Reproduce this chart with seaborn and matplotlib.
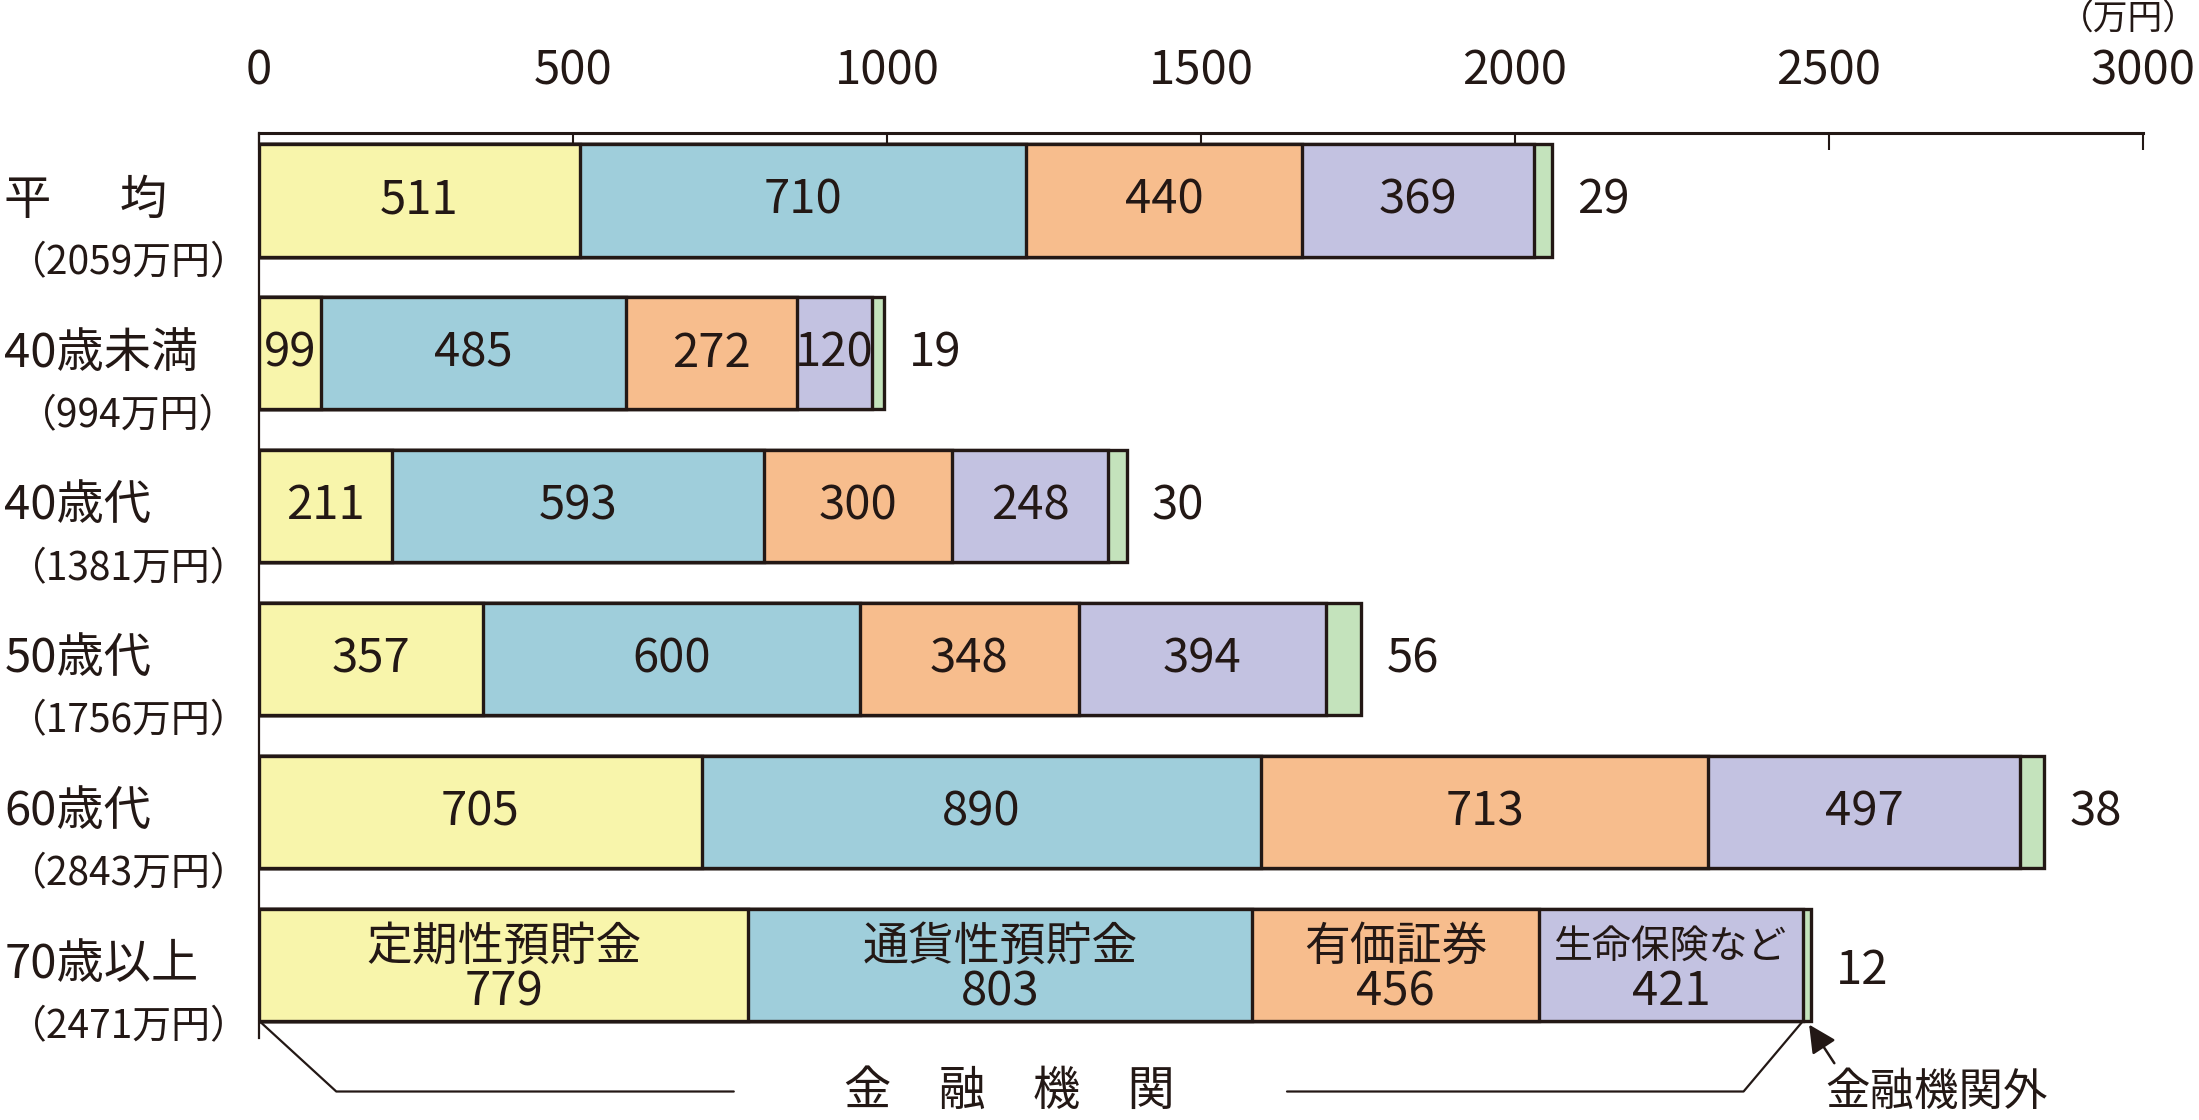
import numpy as np
import pandas as pd
import matplotlib
matplotlib.use("Agg")
import matplotlib.pyplot as plt
import matplotlib.transforms as mtransforms
from matplotlib import font_manager
import seaborn as sns

# data (万円)
groups = ["平均", "40歳未満", "40歳代", "50歳代", "60歳代", "70歳以上"]
group_labels = ["平　  均", "40歳未満", "40歳代", "50歳代", "60歳代", "70歳以上"]
group_totals = ["（2059万円）", "（994万円）", "（1381万円）", "（1756万円）", "（2843万円）", "（2471万円）"]
series = ["定期性預貯金", "通貨性預貯金", "有価証券", "生命保険など", "金融機関外"]
teiki = [511, 99, 211, 357, 705, 779]
tsuka = [710, 485, 593, 600, 890, 803]
yuka = [440, 272, 300, 348, 713, 456]
hoken = [369, 120, 248, 394, 497, 421]
gai = [29, 19, 30, 56, 38, 12]
xticks = [0, 500, 1000, 1500, 2000, 2500, 3000]

colors = ["#F8F5AB", "#9FCEDB", "#F7BD8D", "#C3C2E1", "#C4E3BC"]
ink = "#231815"

# fonts: narrow digits if available, CJK fallback
installed = {f.name for f in font_manager.fontManager.ttflist}
fams = [f for f in ["Liberation Sans Narrow", "Noto Sans CJK JP", "DejaVu Sans"] if f in installed]

sns.set_theme(style="white")
plt.rcParams['font.family'] = fams
plt.rcParams['text.color'] = ink

vals = np.array([teiki, tsuka, yuka, hoken, gai], dtype=float)
cum = vals.cumsum(axis=0)
df = pd.DataFrame({"group": groups})
for j, s in enumerate(series):
    df[s] = cum[j]

fig = plt.figure(figsize=(21.99, 11.2), dpi=100)
ax = fig.add_axes([0.1178, 0.0732, 0.9745 - 0.1178, 0.881 - 0.0732])

# stacked bars: draw cumulative layers back to front
for j in reversed(range(len(series))):
    sns.barplot(data=df, x=series[j], y="group", orient="h", color=colors[j],
                saturation=1, width=0.734, edgecolor=ink, linewidth=2.4,
                errorbar=None, ax=ax)

ax.set_xlim(0, 3000)
ax.set_ylim(5.48, -0.44)
ax.set_xlabel("")
ax.set_ylabel("")
ax.set_yticks([])
ax.set_xticks(xticks)
ax.set_xticklabels([str(t) for t in xticks])
ax.xaxis.set_ticks_position("top")
ax.tick_params(axis="x", top=True, bottom=False, labeltop=True, labelbottom=False,
               direction="in", length=12, width=1.5, color=ink, pad=27,
               labelsize=34, labelcolor=ink)
for side in ["right", "bottom"]:
    ax.spines[side].set_visible(False)
ax.spines["top"].set_linewidth(2.2)
ax.spines["top"].set_color(ink)
ax.spines["left"].set_linewidth(1.6)
ax.spines["left"].set_color(ink)

# segment labels
n = len(groups)
for i in range(n):
    for j in range(4):
        xc = cum[j, i] - vals[j, i] / 2
        if i == n - 1:
            fs = 28 if j == 3 else 33
            ax.text(xc, i - 0.12, series[j], ha="center", va="center", fontsize=fs)
            ax.text(xc, i + 0.18, f"{int(vals[j, i])}", ha="center", va="center", fontsize=34)
        else:
            ax.text(xc, i, f"{int(vals[j, i])}", ha="center", va="center", fontsize=34)
    ax.text(cum[4, i] + 40, i + (0.04 if i == n - 1 else 0), f"{int(vals[4, i])}",
            ha="left", va="center", fontsize=34)

# group labels on the left
trans = mtransforms.blended_transform_factory(fig.transFigure, ax.transData)
for i in range(n):
    ax.text(0.002, i, group_labels[i], transform=trans, ha="left", va="center",
            fontsize=34, clip_on=False)
    ax.text(0.0585, i + 0.41, group_totals[i], transform=trans, ha="center",
            va="center", fontsize=28, clip_on=False)

fig.text(0.9995, 0.998, "（万円）", ha="right", va="top", fontsize=25)

# bracket for 金融機関
last = n - 1
bottom = last + 0.367
inst_total = cum[3, last]
yb = last + 0.83
ax.plot([0, 123, 756], [bottom, yb, yb], color=ink, lw=1.6, clip_on=False)
ax.plot([1637, inst_total - 95, inst_total], [yb, yb, bottom], color=ink, lw=1.6, clip_on=False)
ax.text(1195, yb, "金　融　機　関", ha="center", va="center", fontsize=34, clip_on=False)

# 金融機関外 arrow
ax.annotate("", xy=(cum[4, last] - 5, bottom + 0.01), xytext=(cum[4, last] + 40, last + 0.66),
            arrowprops=dict(arrowstyle="-|>", color=ink, lw=1.8, mutation_scale=42),
            annotation_clip=False)
ax.text(2495, yb, "金融機関外", ha="left", va="center", fontsize=32, clip_on=False)

fig.savefig("out.png", dpi=100)
